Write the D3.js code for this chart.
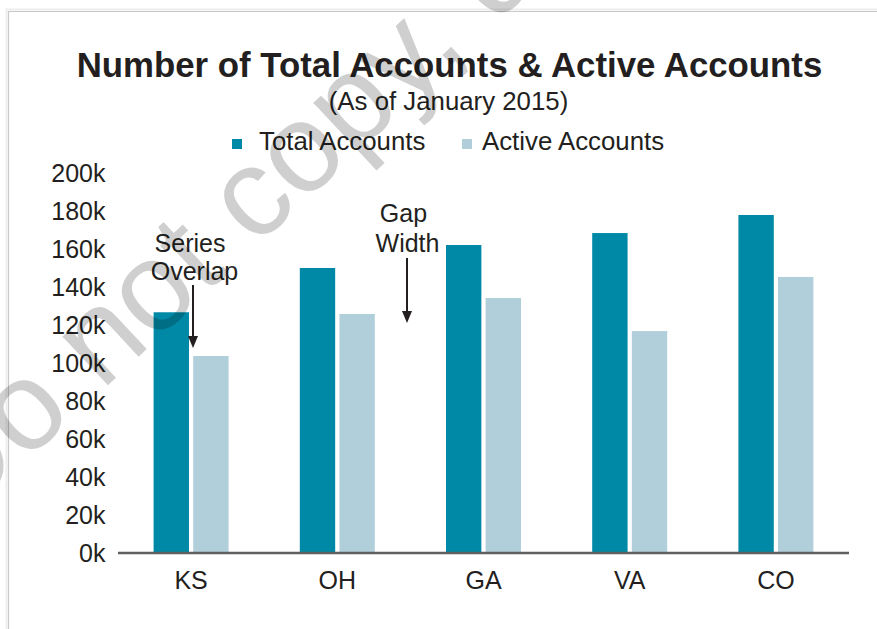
<!DOCTYPE html>
<html>
<head>
<meta charset="utf-8">
<script src="https://cdn.jsdelivr.net/npm/d3@7/dist/d3.min.js"></script>
<style>
  html, body { margin: 0; padding: 0; background: #fff; }
  svg { display: block; }
  text { font-family: "Liberation Sans", Arial, Helvetica, sans-serif; fill: #231F20; }
</style>
</head>
<body>
<script>
// ---- Data ----
const categories = ["KS", "OH", "GA", "VA", "CO"];
const seriesNames = ["Total Accounts", "Active Accounts"];
const totalAccounts = [126700, 150000, 162100, 168400, 177900];
const activeAccounts = [103700, 125800, 134200, 116800, 145300];
const yTicks = [0, 20000, 40000, 60000, 80000, 100000, 120000, 140000, 160000, 180000, 200000];
const titleText = "Number of Total Accounts & Active Accounts";
const subtitleText = "(As of January 2015)";

const colors = { "Total Accounts": "#0089A6", "Active Accounts": "#B0CFDB" };

const W = 877, H = 629;
const svg = d3.select("body").append("svg").attr("width", W).attr("height", H);

// frame border
svg.append("path").attr("d", `M6.5,${H} V9.5 H${W}`).attr("fill", "none").attr("stroke", "#eeeeee").attr("stroke-width", 2);
svg.append("path").attr("d", `M8.5,${H} V11.5 H${W}`).attr("fill", "none").attr("stroke", "#c9c9c9").attr("stroke-width", 1.2);

// scales
const x0 = d3.scaleBand().domain(categories).range([118, 849]).paddingInner(0.487).paddingOuter(0.2435);
const x1 = d3.scaleBand().domain(seriesNames).range([0, x0.bandwidth()]).paddingInner(0.107);
const y = d3.scaleLinear().domain([0, 200000]).range([553, 173]);

const rows = categories.map((c, i) => ({ cat: c, vals: [
  { s: seriesNames[0], v: totalAccounts[i] },
  { s: seriesNames[1], v: activeAccounts[i] }
]}));

// bars
const g = svg.append("g");
g.selectAll("g.cat").data(rows).join("g")
  .attr("class", "cat")
  .attr("transform", d => `translate(${x0(d.cat)},0)`)
  .selectAll("rect").data(d => d.vals).join("rect")
  .attr("x", d => x1(d.s))
  .attr("width", x1.bandwidth())
  .attr("y", d => y(d.v))
  .attr("height", d => y(0) - y(d.v))
  .attr("fill", d => colors[d.s]);

// baseline axis
svg.append("line").attr("x1", 118).attr("x2", 849).attr("y1", y(0)).attr("y2", y(0))
  .attr("stroke", "#606060").attr("stroke-width", 2.6);

// y axis labels
const yAxis = d3.axisLeft(y).tickValues(yTicks).tickSize(0).tickPadding(0)
  .tickFormat(d => (d / 1000) + "k");
const ya = svg.append("g").attr("transform", "translate(105.5,0)").call(yAxis);
ya.select(".domain").remove();
ya.selectAll("text").attr("font-size", "25px").attr("fill", "#231F20")
  .attr("font-family", "'Liberation Sans', Arial, sans-serif").attr("dy", "0.35em");

// x axis labels
const xAxis = d3.axisBottom(x0).tickSize(0).tickPadding(0);
const xa = svg.append("g").attr("transform", "translate(0,589)").call(xAxis);
xa.select(".domain").remove();
xa.selectAll("text").attr("font-size", "25px").attr("fill", "#231F20")
  .attr("font-family", "'Liberation Sans', Arial, sans-serif").attr("dy", 0);

// title
svg.append("text").attr("x", 449.5).attr("y", 77).attr("text-anchor", "middle")
  .attr("font-size", "34.8px").attr("font-weight", "bold").text(titleText);
svg.append("text").attr("x", 448.5).attr("y", 110).attr("text-anchor", "middle")
  .attr("font-size", "25.8px").text(subtitleText);

// legend
const legendPos = [{ sq: 232, tx: 259 }, { sq: 462, tx: 482 }];
seriesNames.forEach((s, i) => {
  svg.append("rect").attr("x", legendPos[i].sq).attr("y", 139).attr("width", 10).attr("height", 10).attr("fill", colors[s]);
  svg.append("text").attr("x", legendPos[i].tx).attr("y", 150).attr("font-size", "25.8px").text(s);
});

// annotations
function arrow(xc, y1, y2) {
  svg.append("line").attr("x1", xc).attr("x2", xc).attr("y1", y1).attr("y2", y2 - 10)
    .attr("stroke", "#231F20").attr("stroke-width", 2);
  svg.append("path").attr("d", `M${xc - 5},${y2 - 12} L${xc + 5},${y2 - 12} L${xc},${y2} Z`).attr("fill", "#231F20");
}
svg.append("text").attr("x", 190).attr("y", 252).attr("text-anchor", "middle").attr("font-size", "25px").text("Series");
svg.append("text").attr("x", 194.5).attr("y", 280).attr("text-anchor", "middle").attr("font-size", "25px").text("Overlap");
arrow(193, 285, 348);
svg.append("text").attr("x", 403.5).attr("y", 222).attr("text-anchor", "middle").attr("font-size", "25px").text("Gap");
svg.append("text").attr("x", 407.5).attr("y", 252).attr("text-anchor", "middle").attr("font-size", "25px").text("Width");
arrow(407, 258, 323);

// watermark
svg.append("text").attr("transform", "translate(-42,525) rotate(-43)")
  .attr("font-size", "126px").style("fill", "#000").style("fill-opacity", 0.19)
  .text("Do not copy, d");
</script>
</body>
</html>
